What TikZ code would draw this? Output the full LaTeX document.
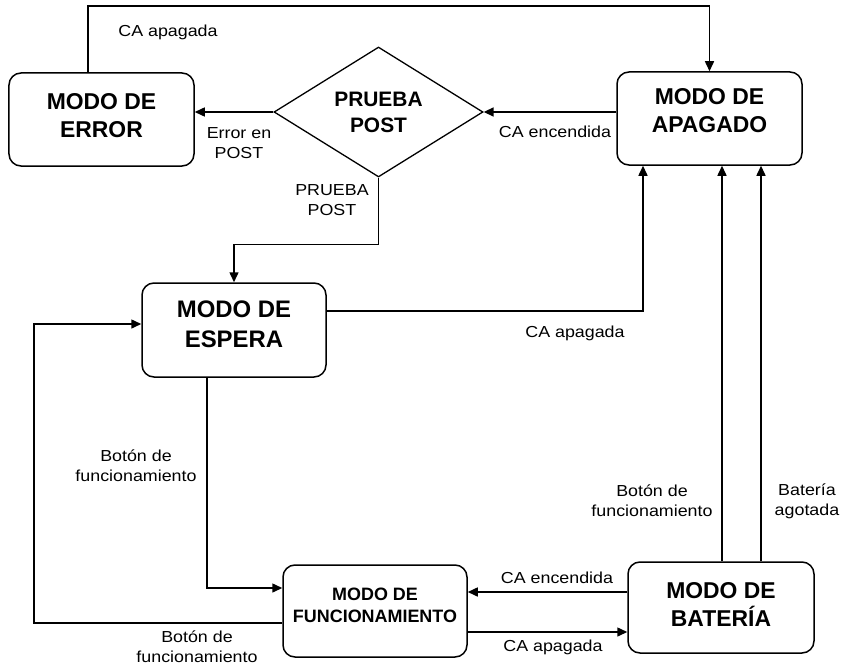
\documentclass[tikz,border=0pt]{standalone}
\usepackage{fontspec}
\setmainfont{Liberation Sans}
\newfontfamily\edgefont{Liberation Sans}[FakeStretch=1.12]
\usepackage{tikz}
\usetikzlibrary{shapes.geometric,arrows.meta}

\begin{document}
\begin{tikzpicture}[
        x=1bp, y=-1bp,
        mode/.style={draw, rounded corners=12bp, line width=1.5bp, align=center,
            inner sep=0pt, font=\bfseries\fontsize{23}{28}\selectfont},
        test/.style={draw, diamond, line width=1.3bp, align=center, inner sep=0pt,
            minimum width=209bp, minimum height=130bp,
            font=\bfseries\fontsize{21}{26}\selectfont},
        flow/.style={draw, line width=1.5bp, -{Triangle[length=10bp,width=9bp]}},
        lbl/.style={align=center, inner sep=0pt, font=\edgefont\fontsize{16}{20}\selectfont}
        ]
        \useasboundingbox (0,0) rectangle (846,666);

        % States
        \node[mode, minimum width=185bp, minimum height=93bp, text depth=8bp] (error) at (101.5,119.5) {MODO DE\\ERROR};
        \node[test] (post) at (378.5,112) {PRUEBA\\POST};
        \node[mode, minimum width=185bp, minimum height=93bp, text depth=16bp] (apagado) at (709.5,118.5) {MODO DE\\APAGADO};
        \node[mode, minimum width=184bp, minimum height=94bp, text depth=12bp, font=\bfseries\fontsize{24}{30}\selectfont] (espera) at (234,330) {MODO DE\\ESPERA};
        \node[mode, minimum width=184bp, minimum height=92bp, text depth=12bp, font=\bfseries\fontsize{18}{22}\selectfont] (func) at (375,611) {MODO DE\\FUNCIONAMIENTO};
        \node[mode, minimum width=186bp, minimum height=91bp, text depth=6bp] (bateria) at (721,607.5) {MODO DE\\BATERÍA};

        % Top row
        \coordinate (top) at (400,6);
        \draw[flow] ([xshift=-13.5bp]error.north) |- (top) -| (apagado.north);
        \draw[flow] (apagado.west |- post.east) -- (post.east);
        \draw[flow] (post.west) -- (post.west -| error.east);
        \draw[flow] (post.south) -- ++(0,67) -| (espera.north);

        % Standby
        \draw[flow] ([yshift=19bp]espera.east) -| ([xshift=-66.5bp]apagado.south);
        \draw[flow] ([xshift=-27bp]espera.south) |- ([yshift=23bp]func.west);
        \draw[flow] ([yshift=-12bp]func.west) -- ++(-248,0) |- ([yshift=6bp]espera.west);

        % Battery
        \draw[flow] ([yshift=15.5bp]bateria.west) coordinate (b1) -- (b1 -| func.east);
        \draw[flow] ([yshift=-21bp]func.east) coordinate (f1) -- (f1 -| bateria.west);
        \draw[flow] ([xshift=1bp]bateria.north) coordinate (b2) -- (b2 |- apagado.south);
        \draw[flow] ([xshift=40bp]bateria.north) coordinate (b3) -- (b3 |- apagado.south);

        % Labels
        \node[lbl] (l1) at (168,32) {CA apagada};
        \node[lbl] (l2) at (555,132) {CA encendida};
        \node[lbl] (l3) at (239,143) {Error en\\POST};
        \node[lbl] (l4) at (332,200) {PRUEBA\\POST};
        \node[lbl] (l5) at (575,333) {CA apagada};
        \node[lbl] (l6) at (136,466) {Botón de\\funcionamiento};
        \node[lbl] (l7) at (197,647) {Botón de\\funcionamiento};
        \node[lbl] (l8) at (557,578) {CA encendida};
        \node[lbl] (l9) at (553,647) {CA apagada};
        \node[lbl] (l10) at (652,501) {Botón de\\funcionamiento};
        \node[lbl] (l11) at (807,501) {Batería\\agotada};
\end{tikzpicture}
\end{document}
